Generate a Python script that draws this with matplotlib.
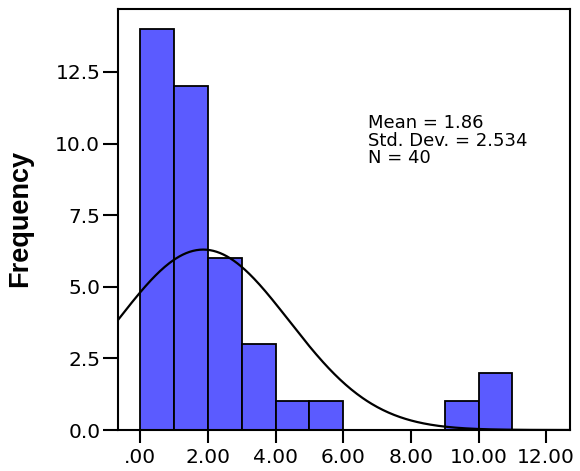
import numpy as np
import matplotlib
matplotlib.use('Agg')
import matplotlib.pyplot as plt

# Histogram data (bin edges of width 1, counts)
bin_lefts = [0, 1, 2, 3, 4, 5, 9, 10]
counts = [14, 12, 6, 3, 1, 1, 1, 2]
mean_val = 1.86
std_val = 2.534
n_val = 40
x_ticks = [0, 2, 4, 6, 8, 10, 12]
x_tick_labels = [".00", "2.00", "4.00", "6.00", "8.00", "10.00", "12.00"]
y_ticks = [0.0, 2.5, 5.0, 7.5, 10.0, 12.5]

plt.rcParams['font.family'] = ['DejaVu Sans']

fig = plt.figure(figsize=(5.8, 4.71), dpi=100)
ax = fig.add_axes([0.204, 0.087, 0.778, 0.893])

ax.bar(bin_lefts, counts, width=1.0, align='edge', color='#5b5bff',
       edgecolor='black', linewidth=1.3, zorder=2)

# Normal curve scaled to counts (bin width 1)
xlim = (-0.65, 12.69)
xs = np.linspace(xlim[0], xlim[1], 400)
ys = n_val * 1.0 / (std_val * np.sqrt(2 * np.pi)) * np.exp(-0.5 * ((xs - mean_val) / std_val) ** 2)
ax.plot(xs, ys, color='black', linewidth=1.6, zorder=3)

ax.set_xlim(*xlim)
ax.set_ylim(0, 14.68)
ax.set_xticks(x_ticks)
ax.set_xticklabels(x_tick_labels)
ax.set_yticks(y_ticks)
ax.set_yticklabels([f"{v:.1f}" for v in y_ticks])

for s in ax.spines.values():
    s.set_linewidth(1.5)
ax.tick_params(axis='y', length=11, width=1.5, pad=2, labelsize=14.5)
ax.tick_params(axis='x', length=9, width=1.5, pad=4, labelsize=14.5)

stats = [f"Mean = {mean_val:.2f}", f"Std. Dev. = {std_val:.3f}", f"N = {n_val}"]
for i, line in enumerate(stats):
    fig.text(368 / 580, 1 - (128 + 17.5 * i) / 471, line, fontsize=13,
             ha='left', va='baseline')

fig.text(20 / 580, 1 - 218 / 471, "Frequency", rotation=90, fontsize=19.5,
         fontweight='bold', family='Liberation Sans', ha='center', va='center')

fig.savefig("out.png", dpi=100)
